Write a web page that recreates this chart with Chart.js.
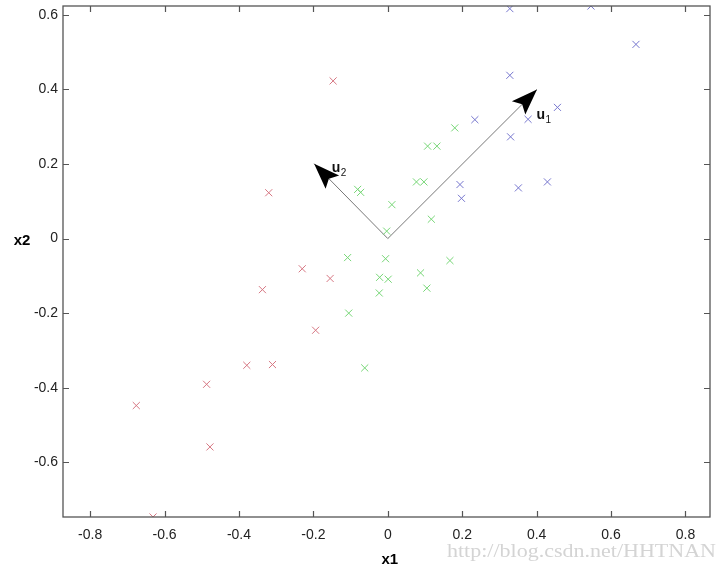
<!DOCTYPE html>
<html>
<head>
<meta charset="utf-8">
<script src="https://cdn.jsdelivr.net/npm/chart.js@4/dist/chart.umd.min.js"></script>
<style>
  html, body { margin: 0; padding: 0; background: #fff; }
  #wrap { width: 727px; height: 572px; position: relative; }
</style>
</head>
<body>
<div id="wrap"><canvas id="c"></canvas></div>
<script>
// data
const redPoints = [
  [-0.147, 0.423], [-0.320, 0.123], [-0.230, -0.081], [-0.155, -0.107],
  [-0.337, -0.137], [-0.194, -0.246], [-0.379, -0.340], [-0.310, -0.338],
  [-0.487, -0.391], [-0.676, -0.448], [-0.478, -0.559], [-0.631, -0.747]
];
const greenPoints = [
  [0.180, 0.297], [0.107, 0.248], [0.132, 0.248], [0.077, 0.152],
  [0.097, 0.152], [-0.081, 0.132], [-0.073, 0.124], [0.011, 0.091],
  [0.117, 0.052], [-0.003, 0.020], [-0.108, -0.051], [-0.006, -0.054],
  [0.167, -0.059], [0.088, -0.092], [-0.022, -0.104], [0.001, -0.109],
  [-0.023, -0.146], [0.105, -0.133], [-0.105, -0.200], [-0.062, -0.347]
];
const bluePoints = [
  [0.328, 0.617], [0.546, 0.624], [0.667, 0.521], [0.328, 0.438],
  [0.456, 0.352], [0.377, 0.320], [0.234, 0.319], [0.330, 0.273],
  [0.194, 0.145], [0.198, 0.108], [0.351, 0.136], [0.429, 0.152]
];
const origin = [0, 0];
const u1Tip = [0.401, 0.400];
const u2Tip = [-0.198, 0.201];
const u1LabelAt = [0.413, 0.331];
const u2LabelAt = [-0.137, 0.189];
const xTicks = [-0.8, -0.6, -0.4, -0.2, 0, 0.2, 0.4, 0.6, 0.8];
const yTicks = [-0.6, -0.4, -0.2, 0, 0.2, 0.4, 0.6];
const xRange = [-0.873, 0.866];
const yRange = [-0.747, 0.624];

const toXY = arr => arr.map(p => ({ x: p[0], y: p[1] }));
const fmt = v => (Math.abs(v) < 1e-9 ? '0' : String(Number(v.toFixed(1))));

const crossStyle = (color) => ({
  showLine: false,
  pointStyle: 'crossRot',
  pointRadius: 5,
  pointBorderWidth: 1,
  borderColor: color,
  backgroundColor: color,
  pointHoverRadius: 5
});

// arrow heads, frame, inward ticks and text labels
const decorPlugin = {
  id: 'decor',
  afterDraw(chart) {
    const ctx = chart.ctx;
    const xs = chart.scales.x, ys = chart.scales.y;
    const a = chart.chartArea;
    ctx.save();

    // frame
    ctx.strokeStyle = '#555';
    ctx.lineWidth = 1.3;
    ctx.strokeRect(a.left, a.top, a.right - a.left, a.bottom - a.top);
    ctx.lineWidth = 1.2;
    ctx.beginPath();
    xTicks.forEach(v => {
      const px = Math.round(xs.getPixelForValue(v)) + 0.5;
      ctx.moveTo(px, a.bottom); ctx.lineTo(px, a.bottom - 6);
      ctx.moveTo(px, a.top); ctx.lineTo(px, a.top + 6);
    });
    yTicks.forEach(v => {
      const py = Math.round(ys.getPixelForValue(v)) + 0.5;
      ctx.moveTo(a.left, py); ctx.lineTo(a.left + 6, py);
      ctx.moveTo(a.right, py); ctx.lineTo(a.right - 6, py);
    });
    ctx.stroke();

    // arrow heads
    const head = (tip) => {
      const ox = xs.getPixelForValue(origin[0]), oy = ys.getPixelForValue(origin[1]);
      const tx = xs.getPixelForValue(tip[0]), ty = ys.getPixelForValue(tip[1]);
      const ang = Math.atan2(ty - oy, tx - ox);
      const len = 26, half = 9.5;
      ctx.save();
      ctx.translate(tx, ty);
      ctx.rotate(ang);
      ctx.fillStyle = '#000';
      ctx.beginPath();
      ctx.moveTo(0, 0);
      ctx.lineTo(-len, -half);
      ctx.lineTo(-len + 5, 0);
      ctx.lineTo(-len, half);
      ctx.closePath();
      ctx.fill();
      ctx.restore();
    };
    head(u1Tip);
    head(u2Tip);

    // u labels
    const uLabel = (pos, sub) => {
      const px = xs.getPixelForValue(pos[0]), py = ys.getPixelForValue(pos[1]);
      ctx.fillStyle = '#111';
      ctx.textAlign = 'left';
      ctx.textBaseline = 'middle';
      ctx.font = 'bold 14px "Liberation Sans", Arial, sans-serif';
      ctx.fillText('u', px - 5, py);
      ctx.font = '10px "Liberation Sans", Arial, sans-serif';
      ctx.fillText(sub, px + 4, py + 5);
    };
    uLabel(u1LabelAt, '1');
    uLabel(u2LabelAt, '2');

    // axis titles
    ctx.fillStyle = '#000';
    ctx.font = 'bold 15px "Liberation Sans", Arial, sans-serif';
    ctx.textAlign = 'center';
    ctx.textBaseline = 'middle';
    ctx.fillText('x1', xs.getPixelForValue(0) + 2, 560);
    ctx.fillText('x2', 22, ys.getPixelForValue(0) + 2);

    // watermark
    ctx.fillStyle = '#d4d4d4';
    ctx.font = '18px "Liberation Serif", serif';
    ctx.textAlign = 'left';
    const wm = 'http://blog.csdn.net/HHTNAN';
    const w = ctx.measureText(wm).width;
    ctx.translate(447, 552);
    ctx.scale(269 / w, 1);
    ctx.fillText(wm, 0, 0);
    ctx.restore();
  }
};

new Chart(document.getElementById('c'), {
  type: 'scatter',
  data: {
    datasets: [
      { label: 'red', data: toXY(redPoints), ...crossStyle('rgb(214,118,130)') },
      { label: 'green', data: toXY(greenPoints), ...crossStyle('rgb(118,214,118)') },
      { label: 'blue', data: toXY(bluePoints), ...crossStyle('rgb(118,118,206)') },
      {
        label: 'u1', data: toXY([origin, u1Tip]), showLine: true,
        borderColor: '#777', borderWidth: 1, pointRadius: 0
      },
      {
        label: 'u2', data: toXY([origin, u2Tip]), showLine: true,
        borderColor: '#777', borderWidth: 1, pointRadius: 0
      }
    ]
  },
  options: {
    responsive: true,
    maintainAspectRatio: false,
    animation: false,
    layout: { padding: { top: 6, right: 17, left: 0, bottom: 0 } },
    plugins: { legend: { display: false }, tooltip: { enabled: false } },
    scales: {
      x: {
        type: 'linear',
        min: xRange[0], max: xRange[1],
        afterBuildTicks: ax => { ax.ticks = xTicks.map(v => ({ value: v })); },
        afterFit: ax => { ax.height = 55; ax.paddingLeft = 0; ax.paddingRight = 0; },
        grid: { display: false, drawTicks: false },
        border: { display: false },
        ticks: {
          callback: v => fmt(v),
          padding: 10,
          color: '#222',
          font: { family: '"Liberation Sans", Arial, sans-serif', size: 14 },
          maxRotation: 0
        }
      },
      y: {
        type: 'linear',
        min: yRange[0], max: yRange[1],
        afterBuildTicks: ax => { ax.ticks = yTicks.map(v => ({ value: v })); },
        afterFit: ax => { ax.width = 63; ax.paddingTop = 0; ax.paddingBottom = 0; },
        grid: { display: false, drawTicks: false },
        border: { display: false },
        ticks: {
          callback: v => fmt(v),
          padding: 5,
          color: '#222',
          font: { family: '"Liberation Sans", Arial, sans-serif', size: 14 }
        }
      }
    }
  },
  plugins: [decorPlugin]
});
</script>
</body>
</html>
